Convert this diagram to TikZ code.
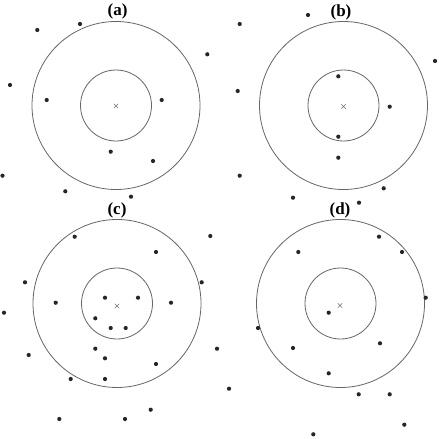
\documentclass[tikz,border=0pt]{standalone}
\usepackage{fontspec}
\setmainfont{Liberation Serif}
\begin{document}
\begin{tikzpicture}[x=1pt,y=-1pt,
  ring/.style={draw=black!60,line width=0.8pt},
  pt/.style={circle,fill=black!85,inner sep=0pt,minimum size=4.2pt},
  lbl/.style={font=\bfseries\fontsize{17}{17}\selectfont,inner sep=0pt},
  ctr/.style={draw=black!55,line width=0.6pt}]
\useasboundingbox[fill=white] (0,0) rectangle (439,439);
% centres
\coordinate (ca) at (116,105.5);
\coordinate (cb) at (343.5,105.5);
\coordinate (cc) at (117,303.5);
\coordinate (cd) at (340.5,303.5);
\foreach \c/\xc/\yc in {ca/116/106, cb/343.5/106.5, cc/117/306, cd/340/305.5}{
  \draw[ring] (\c) circle[radius=84];
  \draw[ring] (\c) circle[radius=35.5];
  \draw[ctr] (\xc-2.2,\yc-2.2) -- (\xc+2.2,\yc+2.2) (\xc-2.2,\yc+2.2) -- (\xc+2.2,\yc-2.2);
}
% labels
\node[lbl] (la) at (117.5,11.5) {(a)};
\node[lbl] (lb) at (341,12.5) {(b)};
\node[lbl] (lc) at (117,210) {(c)};
\node[lbl] (ld) at (340,210) {(d)};
% panel (a)
\foreach \x/\y [count=\i] in {37.3/30, 80/24, 207.3/54.3, 10/85, 46.7/100, 161.7/100, 110.7/151.7, 153/161, 2.5/175.7, 65.3/191.3, 131/196.7}
  \node[pt] (a\i) at (\x,\y) {};
% panel (b)
\foreach \x/\y [count=\i] in {239.7/24, 308/15, 435/61, 237.7/91, 338.3/76.3, 389.7/106.7, 338.3/136.7, 338.3/157.7, 239.7/175.7, 293/197.7, 383.7/188.3, 359/202.7}
  \node[pt] (b\i) at (\x,\y) {};
% panel (c)
\foreach \x/\y [count=\i] in {74.7/236.7, 210.3/236, 156/252, 25/282.3, 201.7/282.3, 4/312.7, 55.7/302.7, 105/297.7, 138/297.7, 171/302.7, 95.3/318.3, 110.7/328, 125.7/328, 95.3/348.7, 105/358.3, 217/348.7, 28.7/355, 156/364, 70.7/379, 105/379, 150.7/409.7, 59.3/419, 125/419}
  \node[pt] (c\i) at (\x,\y) {};
% panel (d)
\foreach \x/\y [count=\i] in {379/236.7, 298.3/252, 402/252, 425.7/297.7, 328.7/312.7, 258/328, 293/348, 380/343.3, 328.7/373.3, 229/388.7, 358.7/394.3, 389.7/394.3, 404.3/424.7, 313.3/434.3}
  \node[pt] (d\i) at (\x,\y) {};
\end{tikzpicture}
\end{document}
